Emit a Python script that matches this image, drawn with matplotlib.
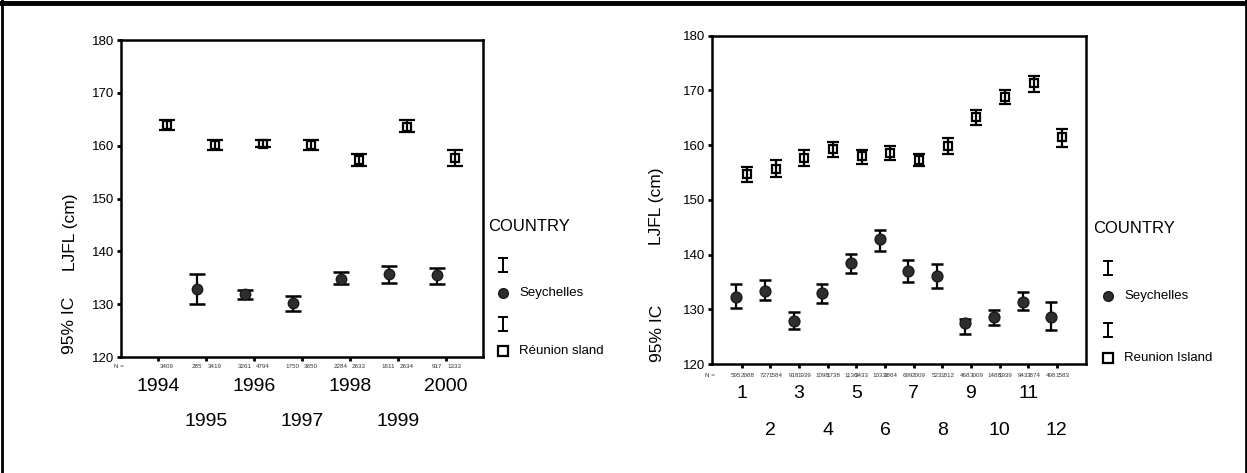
import numpy as np
import matplotlib.pyplot as plt
from matplotlib.lines import Line2D

plt.rcParams['font.family'] = ['Liberation Sans', 'DejaVu Sans']

# ---- data: yearly means with 95% CI ----
years = ['1994', '1995', '1996', '1997', '1998', '1999', '2000']
sey_year_mean = [np.nan, 132.8, 131.9, 130.2, 134.7, 135.7, 135.5]
sey_year_lo = [np.nan, 130.0, 131.0, 128.8, 133.8, 134.1, 133.8]
sey_year_hi = [np.nan, 135.7, 132.7, 131.5, 136.1, 137.3, 136.8]
reu_year_mean = [163.9, 160.1, 160.4, 160.1, 157.3, 163.6, 157.7]
reu_year_lo = [163.0, 159.1, 159.8, 159.2, 156.1, 162.5, 156.2]
reu_year_hi = [164.9, 161.0, 161.1, 161.1, 158.4, 164.9, 159.2]
sey_year_n = ['', '285', '3261', '1750', '2284', '1611', '917']
reu_year_n = ['3409', '3419', '4794', '3650', '2633', '2634', '1333']

# ---- data: monthly means with 95% CI ----
months = ['1', '2', '3', '4', '5', '6', '7', '8', '9', '10', '11', '12']
sey_month_mean = [132.3, 133.4, 127.8, 133.0, 138.4, 142.8, 136.9, 136.1, 127.5, 128.5, 131.4, 128.5]
sey_month_lo = [130.2, 131.6, 126.4, 131.2, 136.7, 140.7, 134.9, 133.8, 125.4, 127.2, 129.9, 126.2]
sey_month_hi = [134.6, 135.3, 129.5, 134.6, 140.1, 144.5, 139.0, 138.3, 128.2, 129.9, 133.1, 131.4]
reu_month_mean = [154.7, 155.7, 157.7, 159.3, 158.0, 158.6, 157.2, 159.9, 165.2, 168.8, 171.3, 161.4]
reu_month_lo = [153.2, 154.2, 156.1, 157.8, 156.5, 157.2, 156.1, 158.3, 163.7, 167.4, 169.7, 159.7]
reu_month_hi = [155.9, 157.3, 159.1, 160.5, 159.1, 159.8, 158.4, 161.3, 166.4, 170.0, 172.6, 163.0]
sey_month_n = ['595', '727', '918', '1098', '1136', '1033', '699', '523', '468', '1488', '943', '498']
reu_month_n = ['2088', '1584', '1939', '1738', '3433', '3864', '2009', '1812', '3009', '1939', '3874', '1583']

yticks = [120, 130, 140, 150, 160, 170, 180]

fig = plt.figure(figsize=(12.47, 4.73), dpi=100)


def panel(rect, labels, sey_m, sey_lo, sey_hi, reu_m, reu_lo, reu_hi,
          sey_n, reu_n, xlim, cap, msize, nlab, ypos):
    ax = fig.add_axes(rect)
    x = np.arange(len(labels))
    off = 0.19
    sm, sl, sh = map(np.array, (sey_m, sey_lo, sey_hi))
    rm, rl, rh = map(np.array, (reu_m, reu_lo, reu_hi))
    ax.errorbar(x - off, sm, yerr=[sm - sl, sh - sm], fmt='o', color='black',
                ecolor='black', elinewidth=1.6, capsize=cap, capthick=1.8,
                markersize=msize, markerfacecolor='#2e2e2e', markeredgecolor='#1a1a1a')
    ax.errorbar(x + off, rm, yerr=[rm - rl, rh - rm], fmt='s', color='black',
                ecolor='black', elinewidth=1.6, capsize=cap, capthick=1.8,
                markersize=msize * 0.72, markerfacecolor='none',
                markeredgecolor='black', markeredgewidth=1.6)
    ax.set_xlim(*xlim)
    ax.set_ylim(120, 180)
    ax.set_yticks(yticks)
    ax.set_xticks(x)
    ax.set_xticklabels([])
    ax.tick_params(axis='both', length=3, width=2, direction='out', labelsize=9.5, pad=2)
    for s in ax.spines.values():
        s.set_linewidth(1.8)
    tr = ax.get_xaxis_transform()
    # N counts under each marker
    ax.text(xlim[0] - 0.005 * (xlim[1] - xlim[0]), nlab, 'N =', transform=tr,
            fontsize=4.5, ha='center', va='center', color='#333333')
    for i in x:
        if sey_n[i]:
            ax.text(i - off, nlab, sey_n[i], transform=tr, fontsize=4.5,
                    ha='center', va='center', color='#333333')
        ax.text(i + off, nlab, reu_n[i], transform=tr, fontsize=4.5,
                ha='center', va='center', color='#333333')
    # staggered category labels
    for i, lab in enumerate(labels):
        ax.text(i, ypos[i % 2], lab, transform=tr, fontsize=14,
                ha='center', va='center')
    return ax


axl = panel([121 / 1247, 116 / 473, 362 / 1247, 317 / 473], years,
            sey_year_mean, sey_year_lo, sey_year_hi,
            reu_year_mean, reu_year_lo, reu_year_hi,
            sey_year_n, reu_year_n, (-0.765, 6.777), 6, 7.5, -0.031,
            (-0.094, -0.205))
axr = panel([711.7 / 1247, 109 / 473, 374.3 / 1247, 328.5 / 473], months,
            sey_month_mean, sey_month_lo, sey_month_hi,
            reu_month_mean, reu_month_lo, reu_month_hi,
            sey_month_n, reu_month_n, (-1.05, 12.02), 4.3, 7.8, -0.034,
            (-0.089, -0.201))

# overlay in pixel coordinates for axis titles, legends and the outer frame
ov = fig.add_axes([0, 0, 1, 1], zorder=-1)
ov.set_xlim(0, 1247)
ov.set_ylim(473, 0)
ov.axis('off')
ov.add_line(Line2D([0, 1247], [3.5, 3.5], color='black', lw=3.5))
ov.add_line(Line2D([1.5, 1.5], [0, 473], color='black', lw=2))
ov.add_line(Line2D([1245.5, 1245.5], [0, 473], color='black', lw=2))

for xl, y_top, y_bot in ((70, 232, 325), (657, 206, 333)):
    ov.text(xl, y_top, 'LJFL (cm)', rotation=90, fontsize=12.5, ha='center', va='center')
    ov.text(xl, y_bot, '95% IC', rotation=90, fontsize=12.5, ha='center', va='center')


def legend(x0, ytitle, y1, y2, y3, y4, reu_label):
    ov.text(x0 - 15, ytitle, 'COUNTRY', fontsize=12, va='center', ha='left')
    for yb in (y1, y3):
        ov.add_line(Line2D([x0, x0], [yb - 7, yb + 7], color='black', lw=1.4))
        for yc in (yb - 7, yb + 7):
            ov.add_line(Line2D([x0 - 4, x0 + 4], [yc, yc], color='black', lw=1.4))
    ov.plot([x0], [y2], 'o', markersize=7, markerfacecolor='#2e2e2e',
            markeredgecolor='#1a1a1a')
    ov.plot([x0], [y4], 's', markersize=6.5, markerfacecolor='none',
            markeredgecolor='black', markeredgewidth=1.6)
    ov.text(x0 + 16, y2, 'Seychelles', fontsize=9.5, va='center', ha='left')
    ov.text(x0 + 16, y4, reu_label, fontsize=9.5, va='center', ha='left')


legend(503, 226, 265, 293, 324, 351, 'Réunion sland')
legend(1108, 228, 268, 296, 330, 358, 'Reunion Island')

fig.savefig('out.png', dpi=100)
